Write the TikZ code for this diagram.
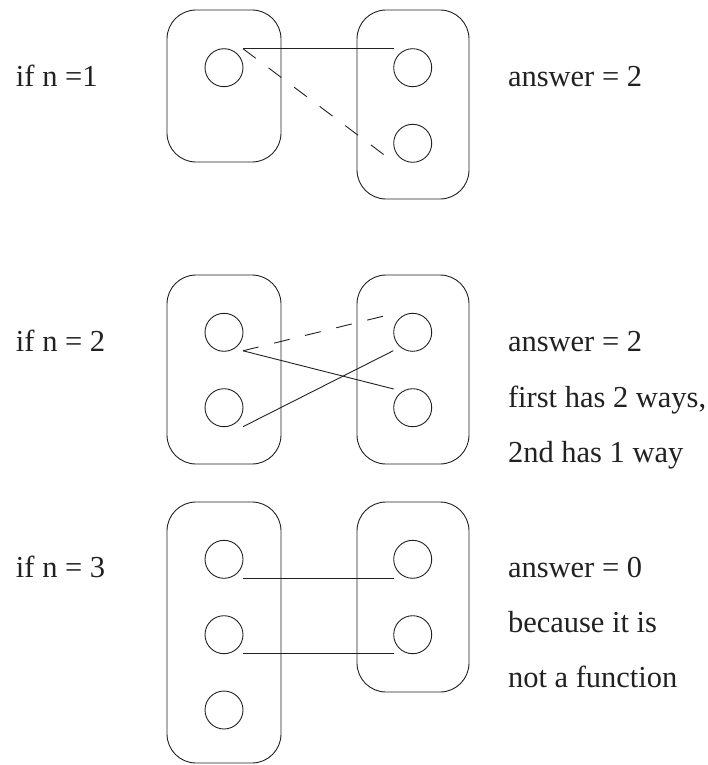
\documentclass[tikz,border=0pt]{standalone}
\usepackage{fontspec}
\setmainfont{Liberation Serif}
\usetikzlibrary{calc}
\definecolor{ink}{gray}{0.13}
\begin{document}
\begin{tikzpicture}[x=1pt,y=-1pt,
  every node/.style={inner sep=0pt, outer sep=0pt},
  setbox/.style={draw=ink, line width=0.9pt, rounded corners=29pt},
  elem/.style={draw=ink, line width=0.9pt, circle, minimum size=38pt},
  conn/.style={draw=ink, line width=0.9pt},
  dsh/.style={conn, dash pattern=on 16pt off 16pt},
  lbl/.style={anchor=base west, font=\fontsize{30.5}{36}\selectfont, text=ink}]
\useasboundingbox (0,0) rectangle (708,765);

% ---- n = 1 ----
\node[setbox, minimum width=114pt, minimum height=152pt] (A) at (224,86) {};
\node[setbox, minimum width=112pt, minimum height=189pt] (B) at (413,104.5) {};
\node[elem] (a1) at (224,67.7) {};
\node[elem] (b1) at (412.7,67.7) {};
\node[elem] (b2) at (412.7,143.3) {};
\draw[conn] ($(a1)+(19,-19)$) -- ($(b1)+(-19,-19)$);
\draw[dsh] ($(a1)+(19,-19)$) -- ($(b2)+(-28,12)$);
\node[lbl] (t1) at (16,87) {if n =1};
\node[lbl] (r1) at (508,87) {answer = 2};

% ---- n = 2 ----
\node[setbox, minimum width=114pt, minimum height=189pt] (C) at (224,369.5) {};
\node[setbox, minimum width=112pt, minimum height=189pt] (D) at (413,369.5) {};
\node[elem] (c1) at (224,332.3) {};
\node[elem] (c2) at (224,407.7) {};
\node[elem] (d1) at (412.7,332.3) {};
\node[elem] (d2) at (412.7,407.7) {};
\draw[dsh] ($(c1)+(19,18.5)$) -- ($(d1)+(-28.7,-16.3)$);
\draw[conn] ($(c1)+(19,18.5)$) -- ($(d2)+(-19,-18.7)$);
\draw[conn] ($(c2)+(19,19)$) -- ($(d1)+(-19.4,18.4)$);
\node[lbl] (t2) at (16,351.7) {if n = 2};
\node[lbl] (r2) at (508,351.7) {answer = 2};
\node[lbl] (r2b) at (508,407) {first has 2 ways,};
\node[lbl] (r2c) at (508,462) {2nd has 1 way};

% ---- n = 3 ----
\node[setbox, minimum width=114pt, minimum height=261pt] (E) at (224,632.5) {};
\node[setbox, minimum width=112pt, minimum height=190pt] (F) at (413,597) {};
\node[elem] (e1) at (224,559.3) {};
\node[elem] (e2) at (224,634.7) {};
\node[elem] (e3) at (224,710) {};
\node[elem] (f1) at (412.7,559.3) {};
\node[elem] (f2) at (412.7,634.7) {};
\draw[conn] ($(e1)+(19,18.7)$) -- ($(f1)+(-19,18.7)$);
\draw[conn] ($(e2)+(19,18.7)$) -- ($(f2)+(-19,18.7)$);
\node[lbl] (t3) at (16,577) {if n = 3};
\node[lbl] (r3) at (508,577) {answer = 0};
\node[lbl] (r3b) at (508,632) {because it is};
\node[lbl] (r3c) at (508,687) {not a function};
\end{tikzpicture}
\end{document}
